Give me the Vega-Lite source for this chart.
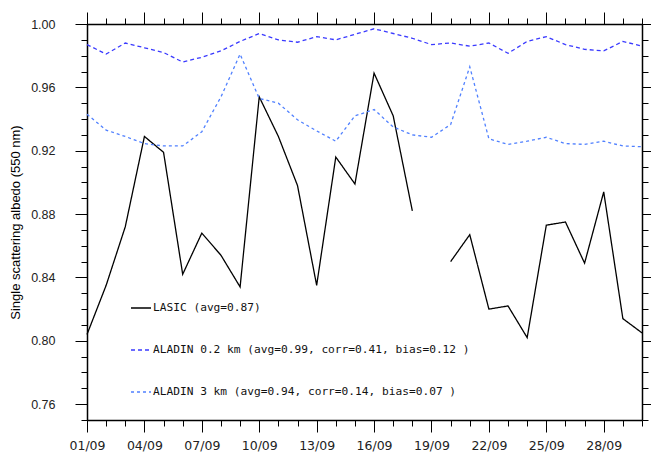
{
  "$schema": "https://vega.github.io/schema/vega-lite/v6.json",
  "width": 555,
  "height": 396,
  "padding": {"left": 87, "top": 24, "right": 9, "bottom": 34},
  "autosize": {"type": "none"},
  "background": "white",
  "config": {
    "view": {"stroke": null},
    "axis": {"grid": false, "domainColor": "#000000", "domainWidth": 1.5, "tickColor": "#000000", "tickWidth": 1, "labelFont": "Liberation Sans", "labelColor": "#222222", "titleFont": "Liberation Sans", "labelFlush": false}
  },
  "datasets": {
    "albedo": [
      {"day": 1, "series": "LASIC (avg=0.87)", "value": 0.804},
      {"day": 2, "series": "LASIC (avg=0.87)", "value": 0.835},
      {"day": 3, "series": "LASIC (avg=0.87)", "value": 0.872},
      {"day": 4, "series": "LASIC (avg=0.87)", "value": 0.929},
      {"day": 5, "series": "LASIC (avg=0.87)", "value": 0.919},
      {"day": 6, "series": "LASIC (avg=0.87)", "value": 0.842},
      {"day": 7, "series": "LASIC (avg=0.87)", "value": 0.868},
      {"day": 8, "series": "LASIC (avg=0.87)", "value": 0.854},
      {"day": 9, "series": "LASIC (avg=0.87)", "value": 0.834},
      {"day": 10, "series": "LASIC (avg=0.87)", "value": 0.954},
      {"day": 11, "series": "LASIC (avg=0.87)", "value": 0.929},
      {"day": 12, "series": "LASIC (avg=0.87)", "value": 0.898},
      {"day": 13, "series": "LASIC (avg=0.87)", "value": 0.835},
      {"day": 14, "series": "LASIC (avg=0.87)", "value": 0.916},
      {"day": 15, "series": "LASIC (avg=0.87)", "value": 0.899},
      {"day": 16, "series": "LASIC (avg=0.87)", "value": 0.969},
      {"day": 17, "series": "LASIC (avg=0.87)", "value": 0.942},
      {"day": 18, "series": "LASIC (avg=0.87)", "value": 0.882},
      {"day": 19, "series": "LASIC (avg=0.87)", "value": null},
      {"day": 20, "series": "LASIC (avg=0.87)", "value": 0.850},
      {"day": 21, "series": "LASIC (avg=0.87)", "value": 0.867},
      {"day": 22, "series": "LASIC (avg=0.87)", "value": 0.820},
      {"day": 23, "series": "LASIC (avg=0.87)", "value": 0.822},
      {"day": 24, "series": "LASIC (avg=0.87)", "value": 0.802},
      {"day": 25, "series": "LASIC (avg=0.87)", "value": 0.873},
      {"day": 26, "series": "LASIC (avg=0.87)", "value": 0.875},
      {"day": 27, "series": "LASIC (avg=0.87)", "value": 0.849},
      {"day": 28, "series": "LASIC (avg=0.87)", "value": 0.894},
      {"day": 29, "series": "LASIC (avg=0.87)", "value": 0.814},
      {"day": 30, "series": "LASIC (avg=0.87)", "value": 0.805},
      {"day": 1, "series": "ALADIN 0.2  km (avg=0.99, corr=0.41, bias=0.12 )", "value": 0.987},
      {"day": 2, "series": "ALADIN 0.2  km (avg=0.99, corr=0.41, bias=0.12 )", "value": 0.981},
      {"day": 3, "series": "ALADIN 0.2  km (avg=0.99, corr=0.41, bias=0.12 )", "value": 0.988},
      {"day": 4, "series": "ALADIN 0.2  km (avg=0.99, corr=0.41, bias=0.12 )", "value": 0.985},
      {"day": 5, "series": "ALADIN 0.2  km (avg=0.99, corr=0.41, bias=0.12 )", "value": 0.982},
      {"day": 6, "series": "ALADIN 0.2  km (avg=0.99, corr=0.41, bias=0.12 )", "value": 0.976},
      {"day": 7, "series": "ALADIN 0.2  km (avg=0.99, corr=0.41, bias=0.12 )", "value": 0.979},
      {"day": 8, "series": "ALADIN 0.2  km (avg=0.99, corr=0.41, bias=0.12 )", "value": 0.983},
      {"day": 9, "series": "ALADIN 0.2  km (avg=0.99, corr=0.41, bias=0.12 )", "value": 0.989},
      {"day": 10, "series": "ALADIN 0.2  km (avg=0.99, corr=0.41, bias=0.12 )", "value": 0.994},
      {"day": 11, "series": "ALADIN 0.2  km (avg=0.99, corr=0.41, bias=0.12 )", "value": 0.990},
      {"day": 12, "series": "ALADIN 0.2  km (avg=0.99, corr=0.41, bias=0.12 )", "value": 0.9885},
      {"day": 13, "series": "ALADIN 0.2  km (avg=0.99, corr=0.41, bias=0.12 )", "value": 0.992},
      {"day": 14, "series": "ALADIN 0.2  km (avg=0.99, corr=0.41, bias=0.12 )", "value": 0.990},
      {"day": 15, "series": "ALADIN 0.2  km (avg=0.99, corr=0.41, bias=0.12 )", "value": 0.9935},
      {"day": 16, "series": "ALADIN 0.2  km (avg=0.99, corr=0.41, bias=0.12 )", "value": 0.997},
      {"day": 17, "series": "ALADIN 0.2  km (avg=0.99, corr=0.41, bias=0.12 )", "value": 0.994},
      {"day": 18, "series": "ALADIN 0.2  km (avg=0.99, corr=0.41, bias=0.12 )", "value": 0.991},
      {"day": 19, "series": "ALADIN 0.2  km (avg=0.99, corr=0.41, bias=0.12 )", "value": 0.987},
      {"day": 20, "series": "ALADIN 0.2  km (avg=0.99, corr=0.41, bias=0.12 )", "value": 0.988},
      {"day": 21, "series": "ALADIN 0.2  km (avg=0.99, corr=0.41, bias=0.12 )", "value": 0.986},
      {"day": 22, "series": "ALADIN 0.2  km (avg=0.99, corr=0.41, bias=0.12 )", "value": 0.988},
      {"day": 23, "series": "ALADIN 0.2  km (avg=0.99, corr=0.41, bias=0.12 )", "value": 0.9815},
      {"day": 24, "series": "ALADIN 0.2  km (avg=0.99, corr=0.41, bias=0.12 )", "value": 0.989},
      {"day": 25, "series": "ALADIN 0.2  km (avg=0.99, corr=0.41, bias=0.12 )", "value": 0.992},
      {"day": 26, "series": "ALADIN 0.2  km (avg=0.99, corr=0.41, bias=0.12 )", "value": 0.987},
      {"day": 27, "series": "ALADIN 0.2  km (avg=0.99, corr=0.41, bias=0.12 )", "value": 0.984},
      {"day": 28, "series": "ALADIN 0.2  km (avg=0.99, corr=0.41, bias=0.12 )", "value": 0.983},
      {"day": 29, "series": "ALADIN 0.2  km (avg=0.99, corr=0.41, bias=0.12 )", "value": 0.989},
      {"day": 30, "series": "ALADIN 0.2  km (avg=0.99, corr=0.41, bias=0.12 )", "value": 0.986},
      {"day": 1, "series": "ALADIN 3  km (avg=0.94, corr=0.14, bias=0.07 )", "value": 0.943},
      {"day": 2, "series": "ALADIN 3  km (avg=0.94, corr=0.14, bias=0.07 )", "value": 0.933},
      {"day": 3, "series": "ALADIN 3  km (avg=0.94, corr=0.14, bias=0.07 )", "value": 0.929},
      {"day": 4, "series": "ALADIN 3  km (avg=0.94, corr=0.14, bias=0.07 )", "value": 0.9245},
      {"day": 5, "series": "ALADIN 3  km (avg=0.94, corr=0.14, bias=0.07 )", "value": 0.923},
      {"day": 6, "series": "ALADIN 3  km (avg=0.94, corr=0.14, bias=0.07 )", "value": 0.923},
      {"day": 7, "series": "ALADIN 3  km (avg=0.94, corr=0.14, bias=0.07 )", "value": 0.932},
      {"day": 8, "series": "ALADIN 3  km (avg=0.94, corr=0.14, bias=0.07 )", "value": 0.954},
      {"day": 9, "series": "ALADIN 3  km (avg=0.94, corr=0.14, bias=0.07 )", "value": 0.981},
      {"day": 10, "series": "ALADIN 3  km (avg=0.94, corr=0.14, bias=0.07 )", "value": 0.953},
      {"day": 11, "series": "ALADIN 3  km (avg=0.94, corr=0.14, bias=0.07 )", "value": 0.950},
      {"day": 12, "series": "ALADIN 3  km (avg=0.94, corr=0.14, bias=0.07 )", "value": 0.9395},
      {"day": 13, "series": "ALADIN 3  km (avg=0.94, corr=0.14, bias=0.07 )", "value": 0.9325},
      {"day": 14, "series": "ALADIN 3  km (avg=0.94, corr=0.14, bias=0.07 )", "value": 0.926},
      {"day": 15, "series": "ALADIN 3  km (avg=0.94, corr=0.14, bias=0.07 )", "value": 0.942},
      {"day": 16, "series": "ALADIN 3  km (avg=0.94, corr=0.14, bias=0.07 )", "value": 0.946},
      {"day": 17, "series": "ALADIN 3  km (avg=0.94, corr=0.14, bias=0.07 )", "value": 0.935},
      {"day": 18, "series": "ALADIN 3  km (avg=0.94, corr=0.14, bias=0.07 )", "value": 0.930},
      {"day": 19, "series": "ALADIN 3  km (avg=0.94, corr=0.14, bias=0.07 )", "value": 0.9285},
      {"day": 20, "series": "ALADIN 3  km (avg=0.94, corr=0.14, bias=0.07 )", "value": 0.9365},
      {"day": 21, "series": "ALADIN 3  km (avg=0.94, corr=0.14, bias=0.07 )", "value": 0.973},
      {"day": 22, "series": "ALADIN 3  km (avg=0.94, corr=0.14, bias=0.07 )", "value": 0.9275},
      {"day": 23, "series": "ALADIN 3  km (avg=0.94, corr=0.14, bias=0.07 )", "value": 0.924},
      {"day": 24, "series": "ALADIN 3  km (avg=0.94, corr=0.14, bias=0.07 )", "value": 0.926},
      {"day": 25, "series": "ALADIN 3  km (avg=0.94, corr=0.14, bias=0.07 )", "value": 0.9285},
      {"day": 26, "series": "ALADIN 3  km (avg=0.94, corr=0.14, bias=0.07 )", "value": 0.9245},
      {"day": 27, "series": "ALADIN 3  km (avg=0.94, corr=0.14, bias=0.07 )", "value": 0.924},
      {"day": 28, "series": "ALADIN 3  km (avg=0.94, corr=0.14, bias=0.07 )", "value": 0.926},
      {"day": 29, "series": "ALADIN 3  km (avg=0.94, corr=0.14, bias=0.07 )", "value": 0.923},
      {"day": 30, "series": "ALADIN 3  km (avg=0.94, corr=0.14, bias=0.07 )", "value": 0.9225}
    ]
  },
  "data": {"name": "albedo"},
  "resolve": {"axis": {"x": "independent", "y": "independent"}},
  "layer": [
    {
      "mark": {"type": "point", "opacity": 0},
      "encoding": {
        "x": {"field": "day", "type": "quantitative", "scale": {"domain": [1, 30], "nice": false, "zero": false},
          "axis": {"orient": "bottom", "values": [1,2,3,4,5,6,7,8,9,10,11,12,13,14,15,16,17,18,19,20,21,22,23,24,25,26,27,28,29,30], "tickSize": 6, "labels": false, "domain": false, "title": null}},
        "y": {"field": "value", "type": "quantitative", "scale": {"domain": [0.75, 1.0], "nice": false, "zero": false},
          "axis": {"orient": "left", "values": [0.75,0.76,0.77,0.78,0.79,0.8,0.81,0.82,0.83,0.84,0.85,0.86,0.87,0.88,0.89,0.9,0.91,0.92,0.93,0.94,0.95,0.96,0.97,0.98,0.99,1.0], "tickSize": 6, "labels": false, "domain": false, "title": null}}
      }
    },
    {
      "mark": {"type": "point", "opacity": 0},
      "encoding": {
        "x": {"field": "day", "type": "quantitative", "scale": {"domain": [1, 30], "nice": false, "zero": false},
          "axis": {"orient": "top", "values": [1,4,7,10,13,16,19,22,25,28], "tickSize": 12, "labels": false, "domain": true, "title": null}},
        "y": {"field": "value", "type": "quantitative", "scale": {"domain": [0.75, 1.0], "nice": false, "zero": false},
          "axis": {"orient": "right", "values": [0.76,0.8,0.84,0.88,0.92,0.96,1.0], "tickSize": 12, "labels": false, "domain": true, "title": null}}
      }
    },
    {
      "mark": {"type": "point", "opacity": 0},
      "encoding": {
        "x": {"field": "day", "type": "quantitative", "scale": {"domain": [1, 30], "nice": false, "zero": false},
          "axis": {"orient": "top", "values": [1,2,3,4,5,6,7,8,9,10,11,12,13,14,15,16,17,18,19,20,21,22,23,24,25,26,27,28,29,30], "tickSize": 6, "labels": false, "domain": false, "title": null}},
        "y": {"field": "value", "type": "quantitative", "scale": {"domain": [0.75, 1.0], "nice": false, "zero": false},
          "axis": {"orient": "right", "values": [0.75,0.76,0.77,0.78,0.79,0.8,0.81,0.82,0.83,0.84,0.85,0.86,0.87,0.88,0.89,0.9,0.91,0.92,0.93,0.94,0.95,0.96,0.97,0.98,0.99,1.0], "tickSize": 6, "labels": false, "domain": false, "title": null}}
      }
    },
    {
      "mark": {"type": "line", "strokeWidth": 1.3, "invalid": "break-paths-show-domains"},
      "encoding": {
        "x": {"field": "day", "type": "quantitative", "scale": {"domain": [1, 30], "nice": false, "zero": false},
          "axis": {"orient": "bottom", "values": [1,4,7,10,13,16,19,22,25,28], "tickSize": 12, "labelExpr": "(datum.value < 10 ? '0' : '') + datum.value + '/09'", "labelFont": "DejaVu Sans", "labelFontSize": 12.5, "labelPadding": 7, "labelFlush": false, "domain": true, "title": null}},
        "y": {"field": "value", "type": "quantitative", "scale": {"domain": [0.75, 1.0], "nice": false, "zero": false},
          "axis": {"orient": "left", "values": [0.76,0.8,0.84,0.88,0.92,0.96,1.0], "format": ".2f", "tickSize": 12, "labelPadding": 20, "labelFontSize": 12.5, "labelFlush": false, "domain": true, "title": "Single scattering albedo (550 nm)", "titleFontSize": 13, "titleFontWeight": "normal", "titleColor": "#000000", "titlePadding": 8}},
        "color": {"field": "series", "type": "nominal",
          "scale": {"domain": ["LASIC (avg=0.87)", "ALADIN 0.2  km (avg=0.99, corr=0.41, bias=0.12 )", "ALADIN 3  km (avg=0.94, corr=0.14, bias=0.07 )"], "range": ["#000000", "#3a3aff", "#5080ff"]},
          "legend": {"orient": "none", "legendX": 43, "legendY": 273, "title": null, "symbolType": "stroke", "symbolSize": 400, "symbolStrokeWidth": 1.3, "labelFont": "DejaVu Sans Mono", "labelFontSize": 11.2, "labelColor": "#111111", "labelOffset": 1, "rowPadding": 25, "labelLimit": 600, "direction": "vertical"}},
        "strokeDash": {"field": "series", "type": "nominal",
          "scale": {"domain": ["LASIC (avg=0.87)", "ALADIN 0.2  km (avg=0.99, corr=0.41, bias=0.12 )", "ALADIN 3  km (avg=0.94, corr=0.14, bias=0.07 )"], "range": [[1, 0], [4, 3], [3, 3]]},
          "legend": {"orient": "none", "legendX": 43, "legendY": 273, "title": null, "symbolType": "stroke", "symbolSize": 400, "symbolStrokeWidth": 1.3, "labelFont": "DejaVu Sans Mono", "labelFontSize": 11.2, "labelColor": "#111111", "labelOffset": 1, "rowPadding": 25, "labelLimit": 600, "direction": "vertical"}}
      }
    }
  ]
}
